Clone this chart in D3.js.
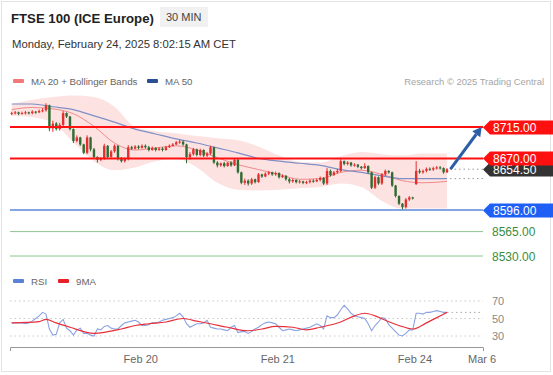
<!DOCTYPE html>
<html>
<head>
<meta charset="utf-8">
<script src="https://cdn.jsdelivr.net/npm/d3@7"></script>
<style>
  body { margin: 0; background: #fff; }
  svg { display: block; font-family: "Liberation Sans", Arial, sans-serif; }
</style>
</head>
<body>
<svg id="chart" width="553" height="375"></svg>
<script>
// candles, 30 min, Feb 19 -> Feb 24 morning
const opens = [
  8734,8735,8736,8734,8735,8736,8735,8737,8736,8738,
  8739,8746,8713,8720,8712,8718,8735,8730,8712,8695,
  8700,8690,8678,8700,8683,8672,8668,8670,8688,8672,
  8680,8688,8670,8666,8669,8686,8684,8687,8685,8688,
  8686,8682,8685,8682,8684,8682,8686,8688,8690,8693,
  8694,8690,8672,8676,8683,8675,8682,8674,8677,8686,
  8664,8660,8663,8659,8664,8660,8668,8650,8635,8638,
  8634,8640,8636,8647,8644,8648,8650,8647,8649,8643,
  8645,8640,8637,8639,8636,8637,8635,8636,8638,8637,
  8639,8642,8634,8652,8646,8650,8652,8666,8662,8664,
  8660,8661,8658,8656,8659,8650,8628,8643,8634,8647,
  8652,8650,8631,8616,8605,8600,8611,8614,8633,8652,
  8650,8652,8655,8654,8656,8657,8656,8650
];
const highs = [
  8737,8738,8737,8737,8738,8737,8739,8738,8740,8742,
  8749,8747,8724,8722,8721,8738,8736,8731,8713,8703,
  8701,8691,8703,8701,8685,8673,8672,8691,8689,8682,
  8690,8689,8672,8671,8689,8688,8689,8689,8690,8690,
  8688,8687,8686,8686,8686,8688,8690,8692,8695,8697,
  8696,8691,8679,8685,8684,8684,8683,8679,8688,8687,
  8666,8664,8665,8664,8666,8670,8669,8651,8641,8640,
  8642,8641,8649,8648,8650,8652,8651,8651,8650,8647,
  8646,8642,8641,8640,8639,8638,8638,8640,8640,8641,
  8644,8643,8656,8654,8652,8655,8669,8667,8666,8665,
  8663,8662,8659,8663,8660,8651,8645,8644,8649,8654,
  8653,8651,8632,8617,8606,8613,8616,8615,8666,8655,
  8654,8657,8657,8658,8659,8659,8657,8656
];
const lows = [
  8732,8733,8732,8733,8733,8733,8733,8734,8735,8736,
  8737,8709,8708,8710,8710,8716,8728,8710,8692,8693,
  8688,8676,8676,8680,8670,8664,8666,8668,8670,8671,
  8678,8667,8664,8664,8667,8682,8683,8683,8684,8684,
  8680,8681,8680,8681,8680,8681,8685,8687,8689,8691,
  8688,8663,8668,8674,8673,8673,8672,8672,8675,8662,
  8657,8658,8657,8658,8658,8659,8648,8633,8632,8631,
  8632,8634,8635,8642,8643,8646,8645,8645,8641,8642,
  8638,8634,8635,8634,8634,8633,8633,8634,8635,8636,
  8637,8632,8632,8644,8645,8648,8650,8660,8660,8658,
  8658,8656,8654,8655,8648,8626,8626,8632,8632,8645,
  8648,8629,8614,8603,8596,8598,8609,8611,8632,8648,
  8648,8650,8652,8652,8654,8654,8648,8649
];
const closes = [
  8735,8736,8734,8735,8736,8735,8737,8736,8738,8739,
  8746,8713,8720,8712,8718,8735,8730,8712,8695,8700,
  8690,8678,8700,8683,8672,8668,8670,8688,8672,8680,
  8688,8670,8666,8669,8686,8684,8687,8685,8688,8686,
  8682,8685,8682,8684,8682,8686,8688,8690,8693,8694,
  8690,8672,8676,8683,8675,8682,8674,8677,8686,8664,
  8660,8663,8659,8664,8660,8668,8650,8635,8638,8634,
  8640,8636,8647,8644,8648,8650,8647,8649,8643,8645,
  8640,8637,8639,8636,8637,8635,8636,8638,8637,8639,
  8642,8634,8652,8646,8650,8652,8666,8662,8664,8660,
  8661,8658,8656,8659,8650,8628,8643,8634,8647,8652,
  8650,8631,8616,8605,8600,8611,8614,8613,8652,8650,
  8652,8655,8654,8656,8657,8656,8650,8654.5
];

// indicator readings, at these candle indices
const indIdx   = [0,6,12,18,24,30,36,42,48,54,60,66,72,78,84,90,96,102,108,114,120,127];
const bbUpper  = [8748,8754,8758,8760,8758,8744,8715,8709,8706,8702,8699,8696,8687,8674,8665,8664,8673,8679,8676,8674,8677,8677];
const bbLower  = [8731,8729,8721,8693,8666,8653,8657,8666,8669,8657,8635,8625,8624,8625,8627,8629,8634,8629,8609,8598,8598,8598];
const ma20     = [8740,8743,8741,8734,8716,8692,8682,8685,8688,8682,8671,8661,8654,8647,8640,8641,8650,8653,8647,8638,8635,8637];
const ma50     = [8748,8748,8744,8740,8731,8722,8712,8705,8698,8692,8685,8678,8670,8666,8663,8660,8654,8650,8645,8641,8641,8641];

const rsi = [
  45,45,45,45,44,45,47,50,53,57,
  55,38,31,32,45,49,39,36,31,37,
  39,33,33,31,30,38,37,41,42,39,
  38,38,42,45,46,47,48,46,42,42,
  43,45,45,46,48,49,50,51,53,56,
  52,44,40,42,44,44,45,48,40,39,
  38,38,37,36,40,42,34,35,35,33,
  35,38,40,43,45,46,45,44,40,36,
  37,38,37,36,37,38,39,40,42,44,
  42,38,53,51,51,54,60,65,61,56,
  53,52,51,50,44,36,42,46,51,50,
  43,39,35,31,30,33,37,37,56,56,
  55,57,57,58,59,58,57,57
];
const rsiMaIdx = [0,8,10,13,17,24,32,36,40,45,50,54,58,63,69,73,77,82,86,90,96,100,103,106,109,113,117,121,124,127];
const rsiMa    = [45,46.5,49,45,40,33,38,42,44,46,50,47,44,40,36,38,41,40,37,40,46,53,56,53,48,42,38,45,51,57];

const rsiLevels = [70, 50, 30];
const dayTicks = [38, 78, 118, 137.6];
const dayLabels = ["Feb 20", "Feb 21", "Feb 24", "Mar 6"];

const resistance = [8715, 8670];
const support = [8596];
const lowerLevels = [8565, 8530];
const lastPrice = 8654.5;
const targetPrice = 8715;

const svg = d3.select("#chart");

const x = d3.scaleLinear().domain([0, 138]).range([10, 483]);
const y = d3.scaleLinear().domain([8530, 8715]).range([256, 127]);
const yr = d3.scaleLinear().domain([30, 70]).range([336, 301]);
const cx = i => x(i + 0.5);

// card
svg.append("rect").attr("x", 1.5).attr("y", 1.5).attr("width", 549).attr("height", 370)
  .attr("fill", "#fff").attr("stroke", "#e3e3e3");

// header
svg.append("text").attr("x", 11).attr("y", 22.5).text("FTSE 100 (ICE Europe)")
  .attr("font-size", 13.2).attr("font-weight", "bold").attr("fill", "#222");
svg.append("rect").attr("x", 160).attr("y", 7).attr("width", 48).attr("height", 20)
  .attr("fill", "#f1f1f1");
svg.append("text").attr("x", 166).attr("y", 21).text("30 MIN")
  .attr("font-size", 11).attr("fill", "#444");
svg.append("text").attr("x", 12).attr("y", 48).text("Monday, February 24, 2025 8:02:15 AM CET")
  .attr("font-size", 11.3).attr("fill", "#333");

// legends
function legendItem(lx, ly, color, label) {
  svg.append("rect").attr("x", lx).attr("y", ly - 2).attr("width", 11).attr("height", 4)
    .attr("rx", 1).attr("fill", color);
  svg.append("text").attr("x", lx + 18).attr("y", ly + 3.5).text(label)
    .attr("font-size", 9.7).attr("fill", "#666");
}
legendItem(13, 81, "#f27a7a", "MA 20 + Bollinger Bands");
legendItem(147, 81, "#2b4f93", "MA 50");
svg.append("text").attr("x", 544).attr("y", 84.5).attr("text-anchor", "end")
  .text("Research \u00a9 2025 Trading Central").attr("font-size", 9.4).attr("fill", "#a5a5a5");

legendItem(13, 281, "#5b80d8", "RSI");
legendItem(58, 281, "#e8202a", "9MA");

// bollinger band + moving averages
const bandPts = indIdx.map((d, k) => ({i: d, hi: bbUpper[k], lo: bbLower[k]}));
svg.append("path").datum(bandPts)
  .attr("d", d3.area().x(d => cx(d.i)).y0(d => y(d.lo)).y1(d => y(d.hi)).curve(d3.curveMonotoneX))
  .attr("fill", "#fde2e2");

function line(idx, vals, scale, color, w) {
  const pts = idx.map((d, k) => [cx(d), scale(vals[k])]);
  svg.append("path").attr("d", d3.line().curve(d3.curveMonotoneX)(pts))
    .attr("fill", "none").attr("stroke", color).attr("stroke-width", w);
}
line(indIdx, ma20, y, "#f08a8a", 1);
line(indIdx, ma50, y, "#7f90c6", 1.2);

// candles
const candles = closes.map((c, i) => ({i, o: opens[i], h: highs[i], l: lows[i], c}));
const upCol = "#e3302f", dnCol = "#2f6b33";
const cg = svg.append("g");
cg.selectAll("line").data(candles).enter().append("line")
  .attr("x1", d => cx(d.i)).attr("x2", d => cx(d.i))
  .attr("y1", d => y(d.h)).attr("y2", d => y(d.l))
  .attr("stroke", d => d.c >= d.o ? upCol : dnCol).attr("stroke-width", 1);
cg.selectAll("rect").data(candles).enter().append("rect")
  .attr("x", d => cx(d.i) - 1.2).attr("width", 2.4)
  .attr("y", d => y(Math.max(d.o, d.c)))
  .attr("height", d => Math.max(1, Math.abs(y(d.o) - y(d.c))))
  .attr("fill", d => d.c >= d.o ? upCol : dnCol);

// levels
resistance.forEach(v => {
  svg.append("line").attr("x1", 10).attr("x2", 483).attr("y1", y(v)).attr("y2", y(v))
    .attr("stroke", "#ff1010").attr("stroke-width", 2);
});
support.forEach(v => {
  svg.append("line").attr("x1", 10).attr("x2", 483).attr("y1", y(v)).attr("y2", y(v))
    .attr("stroke", "#5b87da").attr("stroke-width", 1.5);
});
lowerLevels.forEach(v => {
  svg.append("line").attr("x1", 10).attr("x2", 483).attr("y1", y(v)).attr("y2", y(v))
    .attr("stroke", "#8fc48f").attr("stroke-width", 1);
  svg.append("text").attr("x", 492).attr("y", y(v) + 4.5).text(v.toFixed(2))
    .attr("font-size", 12).attr("fill", "#3d8c3d");
});

// dotted extensions from last candle
[lastPrice, ma50[ma50.length - 1]].forEach(v => {
  svg.append("line").attr("x1", cx(127) + 3).attr("x2", 483).attr("y1", y(v)).attr("y2", y(v))
    .attr("stroke", "#999").attr("stroke-width", 1).attr("stroke-dasharray", "1.5,3");
});

function tag(v, fill) {
  const yc = Math.round(y(v)) + 0.5;
  svg.append("path")
    .attr("d", `M483,${yc} L490,${yc - 7} L553,${yc - 7} L553,${yc + 7} L490,${yc + 7} Z`)
    .attr("fill", fill);
  svg.append("text").attr("x", 493).attr("y", yc + 4.5).text(v.toFixed(2))
    .attr("font-size", 12).attr("fill", "#fff");
}
tag(lastPrice, "#333333");
tag(8715, "#ff1010");
tag(8670, "#ff1010");
tag(8596, "#1f5ff5");

// projection arrow
const ax0 = cx(128), ay0 = y(lastPrice), ax1 = x(137.6), ay1 = y(targetPrice);
const ang = Math.atan2(ay1 - ay0, ax1 - ax0);
const hl = 9, hw = 5;
const bx = ax1 - hl * Math.cos(ang), by = ay1 - hl * Math.sin(ang);
svg.append("line").attr("x1", ax0).attr("y1", ay0).attr("x2", bx).attr("y2", by)
  .attr("stroke", "#2c5ea8").attr("stroke-width", 3);
svg.append("path")
  .attr("d", `M${ax1},${ay1} L${bx - hw * Math.sin(ang)},${by + hw * Math.cos(ang)} L${bx + hw * Math.sin(ang)},${by - hw * Math.cos(ang)} Z`)
  .attr("fill", "#2c5ea8");

// RSI panel
rsiLevels.forEach(v => {
  svg.append("line").attr("x1", 10).attr("x2", 483).attr("y1", yr(v)).attr("y2", yr(v))
    .attr("stroke", "#c8c8c8").attr("stroke-dasharray", "1.5,3");
  svg.append("text").attr("x", 492).attr("y", yr(v) + 4).text(v)
    .attr("font-size", 11).attr("fill", "#888");
});
svg.append("line").attr("x1", cx(127)).attr("x2", 483)
  .attr("y1", yr(rsi[rsi.length - 1])).attr("y2", yr(rsi[rsi.length - 1]))
  .attr("stroke", "#aaa").attr("stroke-dasharray", "1.5,3");

svg.append("path").datum(rsi)
  .attr("d", d3.line().x((d, i) => cx(i)).y(d => yr(d)))
  .attr("fill", "none").attr("stroke", "#8aa2e2").attr("stroke-width", 1.1);
line(rsiMaIdx, rsiMa, yr, "#e8303a", 1.2);

// time axis
const axis = d3.axisBottom(x).tickValues(dayTicks).tickFormat((d, k) => dayLabels[k])
  .tickSize(0).tickPadding(8);
const ag = svg.append("g").attr("transform", "translate(0,347)").call(axis);
ag.select(".domain").attr("stroke", "#999").attr("d", "M10.5,4V0.5H483.5V4");
ag.selectAll("text").attr("font-size", 11).attr("fill", "#666")
  .attr("font-family", "'Liberation Sans', Arial, sans-serif");
</script>
</body>
</html>
